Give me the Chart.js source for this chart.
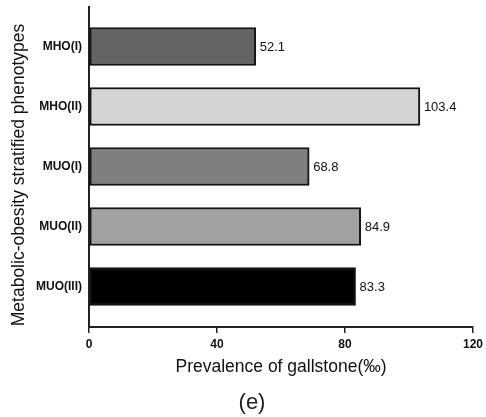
<!DOCTYPE html>
<html>
<head>
<meta charset="utf-8">
<script src="https://cdn.jsdelivr.net/npm/chart.js@4/dist/chart.umd.min.js"></script>
<style>
  html, body { margin: 0; padding: 0; background: #fff; }
  #wrap { width: 486px; height: 417px; position: relative; }
</style>
</head>
<body>
<div id="wrap"><canvas id="c" width="486" height="417"></canvas></div>
<script>
// Gallstone prevalence (per mille) by metabolic-obesity phenotype
const phenotypes = ['MHO(I)', 'MHO(II)', 'MUO(I)', 'MUO(II)', 'MUO(III)'];
const prevalence = [52.1, 103.4, 68.8, 84.9, 83.3];
const barFills = ['#646464', '#d4d4d4', '#7f7f7f', '#a1a1a1', '#000000'];
const xTicks = [0, 40, 80, 120];
const xTitle = 'Prevalence of gallstone(‰)';
const yTitle = 'Metabolic-obesity stratified phenotypes';
const panelLabel = '(e)';

const FONT = '"Liberation Sans", Arial, sans-serif';

// Value printed to the right of each bar
const valueLabels = {
  id: 'valueLabels',
  afterDatasetsDraw(chart) {
    const ctx = chart.ctx;
    const meta = chart.getDatasetMeta(0);
    ctx.save();
    ctx.font = '13px ' + FONT;
    ctx.fillStyle = '#111';
    ctx.textAlign = 'left';
    ctx.textBaseline = 'middle';
    meta.data.forEach((bar, i) => {
      ctx.fillText(prevalence[i].toFixed(1), bar.x + 4, bar.y + 1);
    });
    ctx.restore();
  }
};

// Axis titles and panel letter
const titles = {
  id: 'titles',
  afterDraw(chart) {
    const ctx = chart.ctx;
    const a = chart.chartArea;
    const cx = (a.left + a.right) / 2;
    ctx.save();
    ctx.fillStyle = '#111';
    ctx.textAlign = 'center';
    ctx.textBaseline = 'middle';

    ctx.font = '17.5px ' + FONT;
    ctx.fillText(xTitle, cx, 367);

    ctx.save();
    ctx.translate(19, 175);
    ctx.rotate(-Math.PI / 2);
    ctx.fillText(yTitle, 0, 0);
    ctx.restore();

    ctx.fillStyle = '#222';
    ctx.font = '22px ' + FONT;
    ctx.textBaseline = 'alphabetic';
    ctx.fillText(panelLabel, cx - 29, 409);
    ctx.restore();
  }
};

new Chart(document.getElementById('c'), {
  type: 'bar',
  data: {
    datasets: [{
      data: prevalence.map((v, i) => ({ x: v, y: i })),
      backgroundColor: barFills,
      borderColor: '#151515',
      borderWidth: 2,
      borderSkipped: false,
      barThickness: 38
    }]
  },
  options: {
    indexAxis: 'y',
    responsive: false,
    animation: false,
    layout: { padding: { left: 0, top: 7, right: 13, bottom: 30 } },
    plugins: { legend: { display: false }, tooltip: { enabled: false } },
    scales: {
      x: {
        type: 'linear',
        min: 0,
        max: 120,
        offset: false,
        afterBuildTicks: axis => { axis.ticks = xTicks.map(v => ({ value: v })); },
        afterFit: scale => { scale.height = 60; scale.paddingLeft = 0; scale.paddingRight = 0; },
        grid: { drawOnChartArea: false, drawTicks: true, tickLength: 6, color: '#222', lineWidth: 1.5 },
        border: { display: true, color: '#222', width: 2 },
        ticks: { color: '#111', padding: 4, font: { family: FONT, size: 12, weight: 'bold' } }
      },
      y: {
        type: 'linear',
        reverse: true,
        offset: false,
        min: -0.658,
        max: 4.675,
        afterBuildTicks: axis => { axis.ticks = phenotypes.map((_, i) => ({ value: i })); },
        afterFit: scale => { scale.width = 89; scale.paddingTop = 0; scale.paddingBottom = 0; },
        grid: { display: false, drawTicks: false, offset: false },
        border: { display: true, color: '#222', width: 2 },
        ticks: {
          color: '#111',
          padding: 7,
          font: { family: FONT, size: 12, weight: 'bold' },
          callback: v => phenotypes[v] ?? ''
        }
      }
    }
  },
  plugins: [valueLabels, titles]
});
</script>
</body>
</html>
